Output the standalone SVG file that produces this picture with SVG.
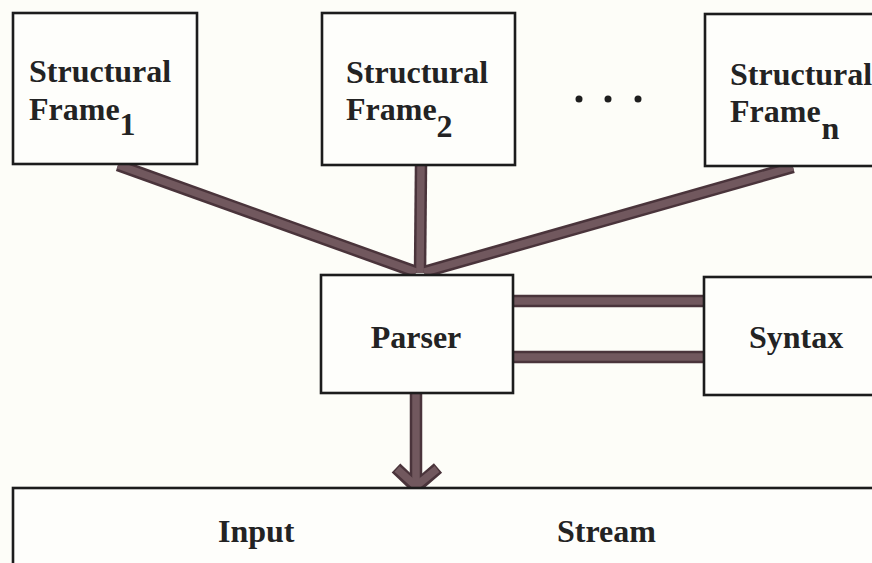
<svg xmlns="http://www.w3.org/2000/svg" width="872" height="563" viewBox="0 0 872 563">
  <style>
    .box { fill: #fefefb; stroke: #1c1c1c; stroke-width: 2.6; }
    .lbl { font-family: "Liberation Serif", "Times New Roman", serif; font-weight: bold; font-size: 32px; fill: #232323; }
    .wire-o { fill: none; stroke: #4a343b; stroke-width: 12.5; stroke-linecap: butt; stroke-linejoin: round; }
    .wire-i { fill: none; stroke: #71585e; stroke-width: 7.5; stroke-linecap: butt; stroke-linejoin: round; }
    .dot { fill: #1e1e1e; }
  </style>
  <rect width="872" height="563" fill="#fdfdf8"/>

  <!-- connectors -->
  <g id="connectors">
    <!-- frames to parser -->
    <path class="wire-o" d="M118,165 L416,272"/>
    <path class="wire-o" d="M421,165 L420,273"/>
    <path class="wire-o" d="M793,167 L424,272"/>
    <!-- parser to syntax -->
    <path class="wire-o" d="M513,301 L704,301"/>
    <path class="wire-o" d="M513,357 L704,357"/>
    <!-- parser to input stream -->
    <path class="wire-o" d="M416,393 L416,486"/>
    <path class="wire-o" d="M396,468 L416,487 L438,468"/>

    <path class="wire-i" d="M118,165 L416,272"/>
    <path class="wire-i" d="M421,165 L420,273"/>
    <path class="wire-i" d="M793,167 L424,272"/>
    <path class="wire-i" d="M513,301 L704,301"/>
    <path class="wire-i" d="M513,357 L704,357"/>
    <path class="wire-i" d="M416,393 L416,484"/>
    <path class="wire-i" d="M397,469 L416,486 L437,469"/>
  </g>

  <g id="frame1">
    <rect class="box" x="13" y="13" width="184" height="151"/>
    <text class="lbl" x="29" y="82">Structural</text>
    <text class="lbl" x="29" y="120">Frame<tspan dy="15">1</tspan></text>
  </g>

  <g id="frame2">
    <rect class="box" x="322" y="13" width="193" height="152"/>
    <text class="lbl" x="346" y="83">Structural</text>
    <text class="lbl" x="346" y="120">Frame<tspan dy="17">2</tspan></text>
  </g>

  <g id="ellipsis">
    <circle class="dot" cx="579" cy="99" r="3.5"/>
    <circle class="dot" cx="608" cy="99" r="3.5"/>
    <circle class="dot" cx="638" cy="99" r="3.5"/>
  </g>

  <g id="frameN">
    <rect class="box" x="705" y="14" width="180" height="152"/>
    <text class="lbl" x="730" y="85">Structural</text>
    <text class="lbl" x="730" y="122">Frame<tspan dx="1" dy="17">n</tspan></text>
  </g>

  <g id="parser">
    <rect class="box" x="321" y="275" width="192" height="118"/>
    <text class="lbl" x="416" y="348" text-anchor="middle">Parser</text>
  </g>

  <g id="syntax">
    <rect class="box" x="704" y="277" width="180" height="118"/>
    <text class="lbl" x="749" y="348">Syntax</text>
  </g>

  <g id="input-stream">
    <rect class="box" x="13" y="488" width="875" height="90"/>
    <text class="lbl" x="218" y="542">Input</text>
    <text class="lbl" x="557" y="542">Stream</text>
  </g>
</svg>
